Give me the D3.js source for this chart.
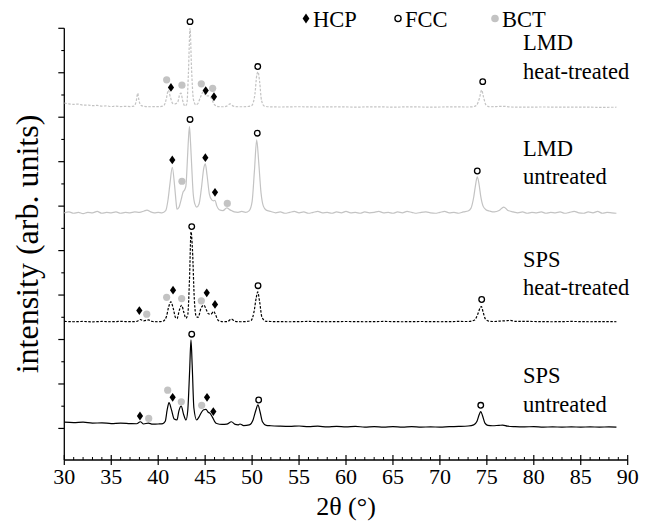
<!DOCTYPE html>
<html><head><meta charset="utf-8">
<script src="https://cdn.jsdelivr.net/npm/d3@7"></script>
<style>
body{margin:0;background:#fff}
svg{display:block}
</style>
</head><body>
<svg id="chart" width="649" height="526"></svg>
<script>
// ---------- data (2θ in degrees, intensity in arb. units incl. vertical offset) ----------
const xMajorTicks = [30,35,40,45,50,55,60,65,70,75,80,85,90];
const seriesLabels = [["LMD","heat-treated"],["LMD","untreated"],["SPS","heat-treated"],["SPS","untreated"]];
const legendLabels = ["HCP","FCC","BCT"];

const lmdHeat = [[30,732],[30.5,730],[31,729],[31.5,729.5],[32,727],[32.5,727.5],[33,726],[33.5,726.5],[34,725],[34.5,725.5],[35,724],[35.5,725],[36,724],[36.5,724.5],[37,724],[37.4,725],[37.65,735],[37.82,754],[37.95,738],[38.2,726],[38.7,724],[39.2,723.5],[39.7,724],[40.2,724],[40.6,726],[40.85,740],[41.08,761],[41.3,745],[41.55,731],[41.8,730],[42.1,735],[42.3,752],[42.43,754],[42.6,738],[42.85,725],[43.05,730],[43.22,800],[43.39,900],[43.55,810],[43.75,740],[44.0,728],[44.2,730],[44.5,745],[44.8,757],[45.1,748],[45.35,748],[45.55,746],[45.75,738],[46.0,728],[46.4,724],[46.9,723.5],[47.3,725],[47.65,730],[48.0,725],[48.5,723.5],[49.0,723.5],[49.5,724],[49.95,726],[50.3,752],[50.5,795],[50.63,802],[50.8,780],[51.0,738],[51.3,725],[51.8,723.5],[53,723],[55,723.6],[57,723],[59,723.5],[61,722.8],[63,723.4],[65,722.8],[67,723.3],[69,722.7],[71,723.2],[73,723],[73.5,723.5],[73.9,727],[74.2,742],[74.45,761],[74.65,745],[74.9,728],[75.3,723.5],[76,724],[76.8,724.5],[77.5,723],[79,722.6],[81,723],[83,722.5],[85,722.8],[87,722.3],[88.8,722.5]];

const lmdUntreated = [[30,485],[30.5,487],[31,484],[31.5,486],[32,483],[32.5,486],[33,485],[33.5,488],[34,484],[34.5,486],[35,485],[35.5,487],[36,484],[36.5,486],[37,485],[37.5,487],[38,486],[38.5,489],[38.8,491],[39.2,487],[39.6,485],[40,486],[40.4,485],[40.8,490],[41.05,515],[41.25,550],[41.5,587],[41.75,545],[41.9,510],[42.0,493],[42.2,497],[42.45,515],[42.65,532],[42.8,536],[42.95,545],[43.1,600],[43.22,650],[43.33,679],[43.45,640],[43.58,585],[43.72,530],[43.9,505],[44.1,498],[44.35,505],[44.6,540],[44.85,585],[45.02,595],[45.2,570],[45.45,527],[45.7,514],[45.9,512],[46.05,513],[46.25,500],[46.5,492],[46.9,490],[47.3,496],[47.7,491],[48.1,487],[48.5,486],[48.9,488],[49.3,486],[49.7,490],[50.0,510],[50.25,580],[50.49,649],[50.7,600],[50.95,530],[51.2,500],[51.5,491],[52,488],[52.5,485],[53,487],[53.5,484],[54,486],[54.5,488],[55,485],[55.5,487],[56,484],[56.5,486],[57,488],[57.5,485],[58,486],[58.5,484],[59,487],[59.5,485],[60,488],[60.5,485],[61,486],[61.5,484],[62,487],[62.5,485],[63,486],[63.5,488],[64,485],[64.5,486],[65,484],[65.5,487],[66,485],[66.5,488],[67,486],[67.5,484],[68,486],[68.5,487],[69,485],[69.5,484],[70,486],[70.5,488],[71,485],[71.5,486],[72,484],[72.5,487],[73,489],[73.3,495],[73.6,520],[73.8,548],[73.98,566],[74.15,552],[74.35,522],[74.6,500],[74.9,492],[75.3,489],[75.8,487],[76.3,490],[76.8,498],[77.2,491],[77.8,487],[78.3,485],[78.8,487],[79.3,484],[79.8,486],[80.3,485],[80.8,487],[81.3,484],[81.8,486],[82.3,485],[82.8,487],[83.3,484],[83.8,486],[84.3,488],[84.8,485],[85.3,484],[85.8,487],[86.3,485],[86.8,488],[87.3,484],[87.8,486],[88.3,485],[88.8,484]];

const spsHeat = [[30,240.8],[31,240],[32,240.6],[33,239.8],[34,240.6],[35,240],[36,240.7],[37,240.2],[37.7,240.6],[38.1,245],[38.45,242],[38.95,244],[39.4,240.5],[40,240],[40.5,241],[40.85,250],[41.1,272],[41.35,285],[41.6,270],[41.85,249],[42.0,247],[42.25,266],[42.5,277],[42.72,262],[42.95,248],[43.15,256],[43.33,334],[43.5,442],[43.65,401],[43.85,289],[44.05,252],[44.25,250],[44.55,270],[44.88,277],[45.12,267],[45.35,258],[45.6,257],[45.92,263],[46.12,255],[46.4,243],[46.9,240],[47.4,240.5],[47.78,246],[48.2,241],[48.8,240],[49.4,240.5],[49.9,243],[50.2,262],[50.45,295],[50.6,307],[50.8,285],[51.05,250],[51.5,241],[52,240.5],[54,240],[56,240.6],[58,240],[60,240.5],[62,240],[64,240.6],[66,240],[68,240.5],[70,240],[72,240.6],[73,240.5],[73.7,244],[74.05,258],[74.3,272],[74.42,274],[74.6,262],[74.85,246],[75.2,241.5],[75.8,240.5],[76.4,241.5],[77,242],[77.5,243],[78,241],[80,240.5],[82,240],[84,240.6],[86,240],[88,240.4],[88.8,240]];

const spsUntreated = [[30,14],[31,13],[32,14],[33,12],[34,12.5],[35,11],[36,12],[37,11],[37.7,10.5],[38.1,15],[38.45,10],[38.95,12],[39.4,9.5],[40,10],[40.5,11],[40.75,16],[40.95,41],[41.15,58],[41.4,43],[41.7,21],[42.0,19],[42.2,39],[42.45,50],[42.7,32],[42.96,19],[43.15,41],[43.35,131],[43.49,199],[43.62,142],[43.8,46],[44.1,19],[44.35,26],[44.63,37],[44.85,42],[45.09,43],[45.3,37],[45.52,34],[45.76,26],[46.0,16],[46.23,11],[46.8,9],[47.3,9.5],[47.8,15],[48.2,9],[48.5,8],[48.71,10],[49.1,6.5],[49.7,8],[50.1,19],[50.4,41],[50.62,53],[50.85,37],[51.1,15],[51.5,7],[52,6],[53,5],[54,4.5],[55,5.5],[56,4],[57,5],[58,3.5],[59,4.5],[60,3.5],[61,4.5],[62,3],[63,4],[64,3],[65,4],[66,3],[67,4],[68,3],[69,3.5],[70,3],[71,4],[72,4.5],[73,5.5],[73.6,8],[73.95,16],[74.2,32],[74.35,38],[74.55,28],[74.8,12],[75.1,7],[75.6,6],[76.3,7],[76.7,7.5],[77.2,5],[78,4],[79,3.5],[80,4],[81,3],[82,3.5],[83,3],[84,3.5],[85,3],[86,3.5],[87,3],[88,3.5],[88.8,3]];

// phase markers: [phase, 2θ, intensity]
const lmdHeatMarks = [["FCC",43.39,915],["FCC",50.6,814],["FCC",74.56,780],["BCT",40.9,784],["HCP",41.36,767],["BCT",42.53,772],["BCT",44.59,775],["HCP",45.06,760],["BCT",45.8,765],["HCP",45.94,746]];
const lmdUntreatedMarks = [["FCC",43.39,695],["FCC",50.55,664],["FCC",73.98,579],["HCP",41.5,604],["HCP",45.02,609],["HCP",46.05,531],["BCT",42.53,556],["BCT",47.36,506]];
const spsHeatMarks = [["FCC",43.57,454],["FCC",50.63,321],["FCC",74.45,290],["HCP",41.58,311],["HCP",45.17,305],["HCP",46.05,279],["HCP",37.99,265],["BCT",40.9,295],["BCT",42.5,292],["BCT",44.59,287],["BCT",38.78,257]];
const spsUntreatedMarks = [["FCC",43.57,212],["FCC",50.7,64],["FCC",74.35,52],["HCP",41.54,70],["HCP",45.2,70],["HCP",45.87,38],["HCP",38.06,28],["BCT",41.01,86],["BCT",42.46,60],["BCT",44.63,52],["BCT",38.99,22.5]];

// ---------- drawing ----------
const FONT = "'Liberation Serif', 'Times New Roman', Times, serif";
const svg = d3.select("#chart").attr("font-family", FONT);
const x = d3.scaleLinear().domain([30,90]).range([64.3,627.7]);
const y = d3.scaleLinear().domain([-71,900]).range([460,28.3]);
const GRAY = "#c3c3c3";

const series = [
  {data: lmdHeat, marks: lmdHeatMarks, color: GRAY, dash: "2.5,1.5", label: seriesLabels[0], ly: 851},
  {data: lmdUntreated, marks: lmdUntreatedMarks, color: GRAY, dash: null, label: seriesLabels[1], ly: 613},
  {data: spsHeat, marks: spsHeatMarks, color: "#000", dash: "2.5,1.5", label: seriesLabels[2], ly: 364},
  {data: spsUntreated, marks: spsUntreatedMarks, color: "#000", dash: null, label: seriesLabels[3], ly: 102}
];

function txt(sel){ return sel.append("text").attr("font-family", FONT).attr("fill","#000"); }

// axes
const xMinor = d3.range(30,91,1).filter(v => v % 5 !== 0);
const axG = svg.append("g");
axG.append("line").attr("x1",x(30)).attr("x2",x(90)).attr("y1",y(-71)).attr("y2",y(-71)).attr("stroke","#000").attr("stroke-width",1.3);
axG.append("line").attr("x1",x(30)).attr("x2",x(30)).attr("y1",y(-71)).attr("y2",y(900)).attr("stroke","#000").attr("stroke-width",1.3);
xMajorTicks.forEach(v => {
  axG.append("line").attr("x1",x(v)).attr("x2",x(v)).attr("y1",y(-71)-5).attr("y2",y(-71)+5).attr("stroke","#000").attr("stroke-width",1.2);
  txt(axG).attr("x",x(v)).attr("y",484).attr("text-anchor","middle").attr("font-size",22).text(v);
});
xMinor.forEach(v => {
  axG.append("line").attr("x1",x(v)).attr("x2",x(v)).attr("y1",y(-71)-3).attr("y2",y(-71)).attr("stroke","#000").attr("stroke-width",1);
});
d3.range(0,901,100).forEach(v => {
  axG.append("line").attr("x1",x(30)-6).attr("x2",x(30)).attr("y1",y(v)).attr("y2",y(v)).attr("stroke","#000").attr("stroke-width",1.2);
});
d3.range(50,900,100).forEach(v => {
  axG.append("line").attr("x1",x(30)-3).attr("x2",x(30)).attr("y1",y(v)).attr("y2",y(v)).attr("stroke","#000").attr("stroke-width",1.1);
});
txt(svg).attr("x",346).attr("y",515).attr("text-anchor","middle").attr("font-size",26).text("2θ (°)");
txt(svg).attr("transform","translate(38,244) rotate(-90)").attr("text-anchor","middle").attr("font-size",32).text("intensity (arb. units)");

// curves
const line = d3.line().x(d => x(d[0])).y(d => y(d[1])).curve(d3.curveMonotoneX);
series.forEach(s => {
  svg.append("path").attr("d", line(s.data)).attr("fill","none").attr("stroke", s.color)
    .attr("stroke-width", 1.2).attr("stroke-dasharray", s.dash);
});

// markers
function diamond(hw, hh){ return `M0,${-hh}L${hw},0L0,${hh}L${-hw},0Z`; }
function drawMark(g, type, cx, cy, big){
  if(type === "HCP"){
    g.append("path").attr("d", big ? diamond(3.4,5) : diamond(3.1,4.4)).attr("transform",`translate(${cx},${cy})`).attr("fill","#000");
  } else if(type === "FCC"){
    g.append("circle").attr("cx",cx).attr("cy",cy).attr("r", big ? 3.1 : 2.8).attr("fill","#fff").attr("stroke","#000").attr("stroke-width",1.3);
  } else {
    g.append("circle").attr("cx",cx).attr("cy",cy).attr("r", big ? 3.8 : 3.6).attr("fill",GRAY);
  }
}
const mg = svg.append("g");
series.forEach(s => {
  const order = {"BCT":0,"FCC":1,"HCP":2};
  s.marks.slice().sort((a,b)=>order[a[0]]-order[b[0]]).forEach(m => drawMark(mg, m[0], x(m[1]), y(m[2]), false));
});

// series labels
series.forEach(s => {
  const t = txt(svg).attr("x", 523).attr("y", y(s.ly)).attr("font-size",22.5);
  t.append("tspan").attr("x",523).text(s.label[0]);
  t.append("tspan").attr("x",523).attr("dy",28.5).text(s.label[1]);
});

// legend
const legX = [306, 398, 495];
legendLabels.forEach((lab,i) => {
  drawMark(svg, lab, legX[i], 18.5, true);
  txt(svg).attr("x", legX[i]+7).attr("y", 26.5).attr("font-size",22.5).text(lab);
});
</script>
</body></html>
